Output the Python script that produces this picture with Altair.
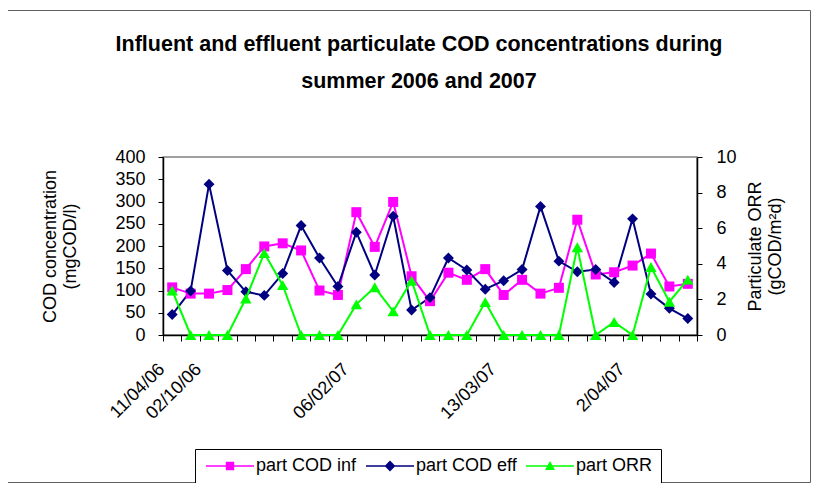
import altair as alt
import pandas as pd

# ---- data ----
x_labels = ["11/04/06", "", "02/10/06", "", "", "", "", "", "", "", "06/02/07",
            "", "", "", "", "", "", "", "13/03/07", "", "", "", "", "", "", "2/04/07",
            "", "", ""]
cod_inf = [107, 93, 93, 101, 148, 199, 206, 190, 100, 90, 276, 198, 299, 132, 76,
           140, 124, 148, 90, 124, 93, 106, 259, 136, 141, 156, 183, 109, 115]
cod_eff = [46, 99, 339, 145, 97, 89, 138, 246, 173, 109, 231, 135, 267, 56, 84,
           173, 146, 103, 122, 147, 289, 166, 142, 147, 118, 261, 92, 60, 37]
orr = [2.5, 0, 0, 0, 2.05, 4.6, 2.8, 0, 0, 0, 1.72, 2.68, 1.33, 3.05, 0,
       0, 0, 1.85, 0, 0, 0, 0, 4.93, 0, 0.73, 0, 3.82, 1.87, 3.11]
series_names = ["part COD inf", "part COD eff", "part ORR"]
series_colors = ["#FF00FF", "#000080", "#00FF00"]

idx = list(range(len(cod_inf)))
df = pd.DataFrame({"idx": idx, "inf": cod_inf, "eff": cod_eff, "orr": orr})
legend_df = pd.DataFrame({"series": series_names})
frame_df = pd.DataFrame({"k": [0]})

FONT = "Liberation Sans, Arial, sans-serif"

label_js = "[" + ",".join("'%s'" % s for s in x_labels) + "][datum.value]"

xenc = alt.X(
    "idx:O",
    scale=alt.Scale(type="band", domain=idx, paddingInner=0, paddingOuter=0),
    axis=alt.Axis(title=None, tickBand="extent", labelAngle=-45, labelExpr=label_js,
                  labelOverlap=False, tickSize=6, labelFontSize=18, labelPadding=19,
                  labelOffset=-17),
)

left_axis = alt.Axis(values=list(range(0, 401, 50)), title=["COD concentration", "(mgCOD/l)"],
                     tickSize=5, labelPadding=13, titlePadding=35, grid=False)
right_axis = alt.Axis(orient="right", values=[0, 2, 4, 6, 8, 10],
                      title=["Particulate ORR", "(gCOD/m²d)"], titleAngle=270,
                      tickSize=5, labelPadding=14, titlePadding=8, grid=False)

base = alt.Chart(df)
lscale = alt.Scale(domain=[0, 400])
rscale = alt.Scale(domain=[0, 10])


def yl(field):
    return alt.Y(field + ":Q", scale=lscale, axis=left_axis)


def yr(field):
    return alt.Y(field + ":Q", scale=rscale, axis=right_axis)


inf_line = base.mark_line(color=series_colors[0], strokeWidth=2).encode(x=xenc, y=yl("inf"))
eff_line = base.mark_line(color=series_colors[1], strokeWidth=2).encode(x=xenc, y=yl("eff"))
inf_pts = base.mark_point(shape="square", filled=True, opacity=1, size=100,
                          color=series_colors[0]).encode(x=xenc, y=yl("inf"))
eff_pts = base.mark_point(shape="diamond", filled=True, opacity=1, size=120,
                          color=series_colors[1]).encode(x=xenc, y=yl("eff"))

# legend symbols: line with marker (custom paths, unit = sqrt(size)/2 px)
legend_paths = [
    "M-1,-0.125H2.3V-0.7H3.7V-0.125H7V0.125H3.7V0.7H2.3V0.125H-1Z",
    "M-1,-0.125H2.225L3,-0.9L3.775,-0.125H7V0.125H3.775L3,0.9L2.225,0.125H-1Z",
    "M-1,-0.125H2.607L3,-0.833L3.393,-0.125H7V0.125H3.532L3.833,0.667H2.167L2.468,0.125H-1Z",
]
legend_layer = alt.Chart(legend_df).mark_point(filled=True, size=0, opacity=1).encode(
    color=alt.Color("series:N", scale=alt.Scale(domain=series_names, range=series_colors),
                    sort=series_names,
                    legend=alt.Legend(title=None, orient="none", legendX=32, legendY=292,
                                      direction="horizontal", columns=3, symbolSize=144,
                                      symbolStrokeWidth=0, symbolOpacity=1, labelFontSize=18,
                                      labelOffset=35, columnPadding=6, padding=8,
                                      strokeColor="black", fillColor="white")),
    shape=alt.Shape("series:N", scale=alt.Scale(domain=series_names, range=legend_paths),
                    sort=series_names),
)

left = alt.layer(inf_line, eff_line, inf_pts, eff_pts, legend_layer)

orr_line = base.mark_line(color=series_colors[2], strokeWidth=2).encode(x=xenc, y=yr("orr"))
orr_pts = base.mark_point(shape="triangle-up", filled=True, opacity=1, size=130,
                          color=series_colors[2]).encode(x=xenc, y=yr("orr"))
right = alt.layer(orr_line, orr_pts)

frame = alt.Chart(frame_df).mark_rect(fillOpacity=0, stroke="#606060", strokeWidth=1).encode(
    x=alt.value(-155.5), x2=alt.value(647.5), y=alt.value(-146.5), y2=alt.value(325.5))

chart = alt.layer(left, right, frame).resolve_scale(y="independent").properties(
    width=534, height=178,
    autosize=alt.AutoSizeParams(type="none"),
    padding={"left": 155, "top": 149, "right": 115, "bottom": 148},
    title=alt.TitleParams(
        text=["Influent and effluent particulate COD concentrations during",
              "summer 2006 and 2007"],
        fontSize=21.5, fontWeight="bold", font=FONT, lineHeight=37, offset=-82,
        anchor="middle", dx=-11, color="black"),
).configure_axis(
    labelFont=FONT, titleFont=FONT, labelFontSize=18, titleFontSize=18,
    titleFontWeight="normal", labelColor="black", titleColor="black",
    domainColor="black", tickColor="black", domainWidth=1.5,
).configure_legend(
    labelFont=FONT, labelColor="black",
).configure_view(
    stroke="#808080", strokeWidth=1.5,
)

chart.save("out.html", embed_options={"renderer": "svg", "actions": False})
